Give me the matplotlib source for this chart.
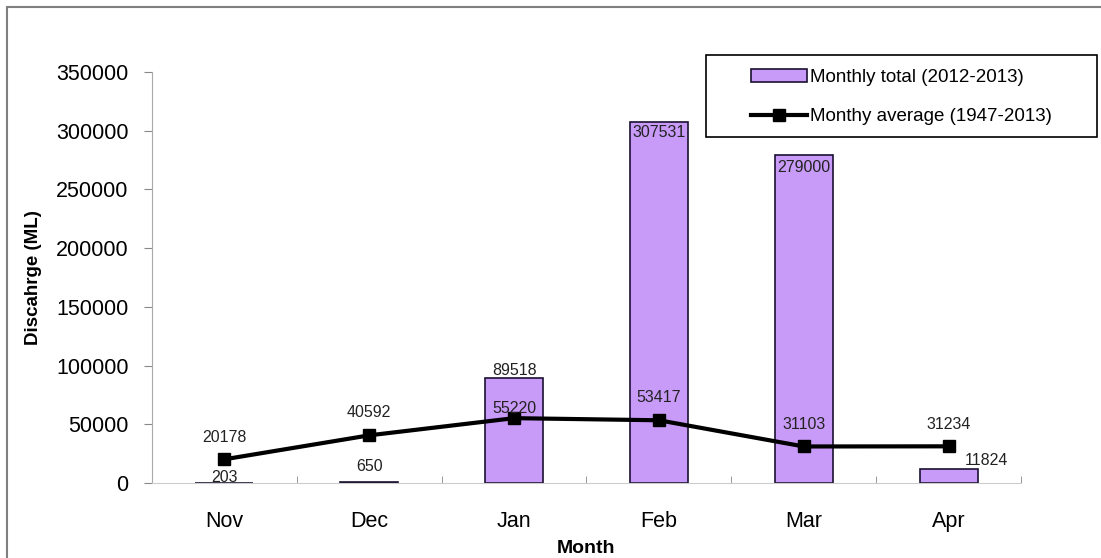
import matplotlib
matplotlib.use("Agg")
import matplotlib.pyplot as plt
from matplotlib.patches import Rectangle

plt.rcParams['font.family'] = ['Liberation Sans', 'DejaVu Sans']

months = ["Nov", "Dec", "Jan", "Feb", "Mar", "Apr"]
monthly_total = [203, 650, 89518, 307531, 279000, 11824]
monthly_avg = [20178, 40592, 55220, 53417, 31103, 31234]
yticks = [0, 50000, 100000, 150000, 200000, 250000, 300000, 350000]

fig = plt.figure(figsize=(11.01, 5.58), dpi=100)
ax = fig.add_axes([152/1101, 1-483/558, (1021-152)/1101, (483-72)/558])

x = list(range(len(months)))
bars = ax.bar(x, monthly_total, width=0.4, color="#C99BF8", edgecolor="#1a1030",
              linewidth=1.2, label="Monthly total (2012-2013)", zorder=2)
line, = ax.plot(x, monthly_avg, color="black", lw=3, marker="s", markersize=9,
                label="Monthy average (1947-2013)", zorder=3)

# bar value labels
bar_offsets = [4200, 13500, 6500, -9000, -10000, 7400]
for i, v in enumerate(monthly_total):
    dx = 0.26 if i == 5 else 0
    ax.text(i + dx, v + bar_offsets[i], str(v), ha="center", va="center",
            fontsize=11.5, color="#222222", zorder=4)

# line value labels
line_offsets = [18500, 19300, 8000, 19300, 18400, 19000]
for i, v in enumerate(monthly_avg):
    ax.text(i, v + line_offsets[i], str(v), ha="center", va="center",
            fontsize=11.5, color="#222222", zorder=4)

ax.set_xlim(-0.5, 5.5)
ax.set_ylim(0, 350000)
ax.set_yticks(yticks)
ax.set_yticklabels([str(t) for t in yticks], fontsize=15.5)
ax.set_xticks(x)
ax.set_xticklabels(months, fontsize=15.5)
ax.set_xticks([i + 0.5 for i in range(-1, 6)], minor=True)
ax.tick_params(axis="x", which="major", length=0, pad=20)
ax.tick_params(axis="x", which="minor", length=5, direction="in", color="#888888")
ax.tick_params(axis="y", length=6, color="#888888", pad=11)

for s in ["top", "right"]:
    ax.spines[s].set_visible(False)
ax.spines["left"].set_color("#aaaaaa")
ax.spines["bottom"].set_color("#cccccc")

ax.set_ylabel("Discahrge (ML)", fontsize=13.5, fontweight="bold", labelpad=10)
ax.set_xlabel("Month", fontsize=14, fontweight="bold", labelpad=6)

# legend box
fig.patches.append(Rectangle((706/1101, 1-137/558), (1097-706)/1101, (137-55)/558,
                             transform=fig.transFigure, fill=False,
                             edgecolor="black", lw=1.2))
ax.legend(handles=[bars, line], loc="center", frameon=False, fontsize=13.5,
          bbox_to_anchor=((706+1097)/2/1101, 1-97/558), bbox_transform=fig.transFigure,
          handlelength=3.0, labelspacing=1.2, handletextpad=0.15)

# outer border
fig.patches.append(Rectangle((7/1101, -0.1), 1.2, 1.1 - 7/558,
                             transform=fig.transFigure, fill=False,
                             edgecolor="#808080", lw=1.5))

fig.savefig("out.png", dpi=100)
